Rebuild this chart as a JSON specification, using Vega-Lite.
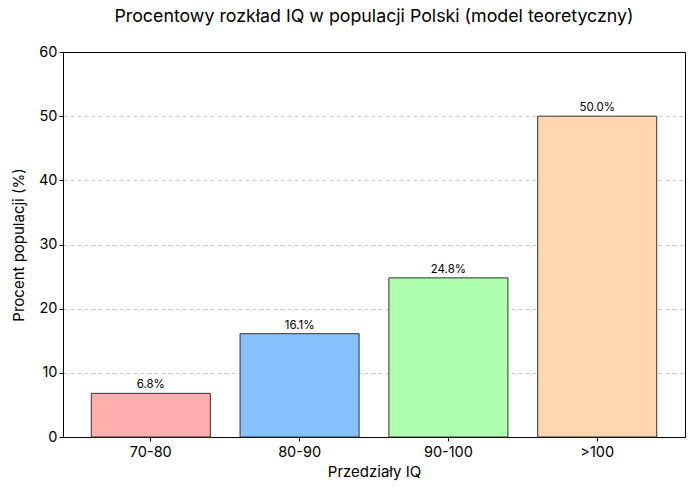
{
  "$schema": "https://vega.github.io/schema/vega-lite/v6.json",
  "width": 622,
  "height": 385,
  "autosize": {"type": "none"},
  "padding": {"left": 63, "top": 52, "right": 8, "bottom": 57},
  "background": "white",
  "config": {
    "font": "Inter",
    "view": {"stroke": "black", "strokeWidth": 1},
    "axis": {
      "domainColor": "black",
      "tickColor": "black",
      "labelColor": "black",
      "titleColor": "black",
      "labelFontSize": 14.5,
      "titleFontSize": 15,
      "titleFontWeight": "normal",
      "tickSize": 4
    }
  },
  "title": {
    "text": "Procentowy rozkład IQ w populacji Polski (model teoretyczny)",
    "fontSize": 17.8,
    "fontWeight": "normal",
    "color": "black",
    "offset": 18
  },
  "data": {
    "values": [
      {"przedzial": "70-80", "procent": 6.8, "etykieta": "6.8%", "kolor": "#ffadad"},
      {"przedzial": "80-90", "procent": 16.1, "etykieta": "16.1%", "kolor": "#85c2ff"},
      {"przedzial": "90-100", "procent": 24.8, "etykieta": "24.8%", "kolor": "#adffad"},
      {"przedzial": ">100", "procent": 50.0, "etykieta": "50.0%", "kolor": "#ffd6ad"}
    ]
  },
  "encoding": {
    "x": {
      "field": "przedzial",
      "type": "nominal",
      "sort": null,
      "scale": {"paddingInner": 0.2, "paddingOuter": 0.19},
      "axis": {"title": "Przedziały IQ", "labelAngle": 0, "labelPadding": 4, "titlePadding": 6, "grid": false}
    },
    "y": {
      "field": "procent",
      "type": "quantitative",
      "scale": {"domain": [0, 60], "nice": false},
      "axis": {
        "title": "Procent populacji (%)",
        "values": [0, 10, 20, 30, 40, 50, 60],
        "grid": true,
        "gridColor": "#bdbdbd",
        "gridDash": [4, 3],
        "gridWidth": 0.8,
        "gridOpacity": {"condition": {"test": "datum.value >= 60", "value": 0}, "value": 1},
        "titlePadding": 12
      }
    }
  },
  "layer": [
    {
      "mark": {"type": "bar", "stroke": "#333333", "strokeWidth": 1},
      "encoding": {
        "color": {"field": "kolor", "type": "nominal", "scale": null}
      }
    },
    {
      "mark": {"type": "text", "baseline": "bottom", "dy": -3, "fontSize": 11.5, "color": "black"},
      "encoding": {
        "text": {"field": "etykieta", "type": "nominal"}
      }
    }
  ]
}
